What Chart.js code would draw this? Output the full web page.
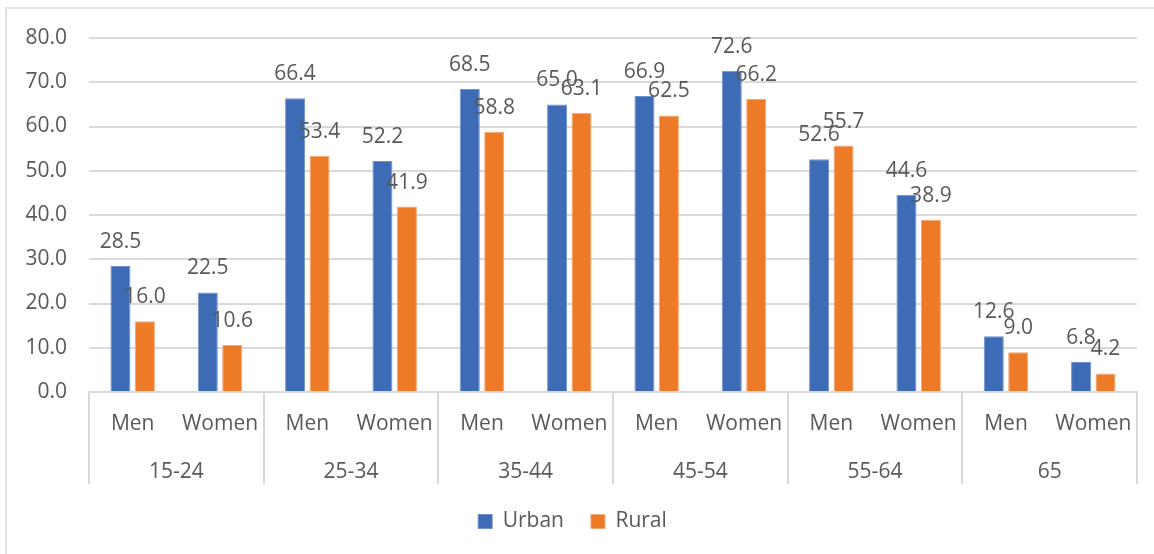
<!DOCTYPE html>
<html lang="en">
<head>
    <meta charset="UTF-8">
    <title>Urban / Rural by age group and sex</title>
    <script src="https://cdn.jsdelivr.net/npm/chart.js"></script>
    <style>
        html, body { margin: 0; padding: 0; background: #fff; overflow: hidden; }
        #wrap { position: relative; width: 1154px; height: 554px; }
        #frame {
            position: absolute; left: 5px; top: 7px;
            width: 1170px; height: 570px;
            border: 2px solid #e2e2e2;
        }
        #chart { position: absolute; left: 0; top: 0; }
    </style>
</head>
<body>
    <div id="wrap">
        <div id="frame"></div>
        <canvas id="chart" width="1154" height="554"></canvas>
    </div>
    <script>
        // data
        const sexLabels = ['Men', 'Women', 'Men', 'Women', 'Men', 'Women',
                           'Men', 'Women', 'Men', 'Women', 'Men', 'Women'];
        const ageGroups = ['15-24', '25-34', '35-44', '45-54', '55-64', '65'];
        const urban = [28.5, 22.5, 66.4, 52.2, 68.5, 65.0, 66.9, 72.6, 52.6, 44.6, 12.6, 6.8];
        const rural = [16.0, 10.6, 53.4, 41.9, 58.8, 63.1, 62.5, 66.2, 55.7, 38.9, 9.0, 4.2];

        const FONT = '"Open Sans", "Liberation Sans", sans-serif';
        const SIZE = 21;
        const TEXT = '#595959';
        const GRID = '#d9d9d9';

        // value labels above each bar
        const valueLabels = {
            id: 'valueLabels',
            afterDatasetsDraw(chart) {
                const ctx = chart.ctx;
                ctx.save();
                ctx.font = SIZE + 'px ' + FONT;
                ctx.fillStyle = TEXT;
                ctx.textAlign = 'center';
                ctx.textBaseline = 'middle';
                chart.data.datasets.forEach((ds, i) => {
                    chart.getDatasetMeta(i).data.forEach((bar, j) => {
                        ctx.fillText(ds.data[j].toFixed(1), bar.x, bar.y - 24);
                    });
                });
                ctx.restore();
            }
        };

        // vertical separators between the age groups, under the axis
        const groupLines = {
            id: 'groupLines',
            afterDraw(chart) {
                const x = chart.scales.x;
                const x2 = chart.scales.x2;
                const ctx = chart.ctx;
                const step = x.width / ageGroups.length;
                ctx.save();
                ctx.strokeStyle = GRID;
                ctx.lineWidth = 2;
                for (let i = 0; i <= ageGroups.length; i++) {
                    const px = Math.round(x.left + i * step);
                    ctx.beginPath();
                    ctx.moveTo(px, x.top);
                    ctx.lineTo(px, x2.bottom);
                    ctx.stroke();
                }
                ctx.restore();
            }
        };

        new Chart(document.getElementById('chart'), {
            type: 'bar',
            data: {
                labels: sexLabels,
                datasets: [{
                    label: 'Urban',
                    data: urban,
                    backgroundColor: '#3d6bb5',
                    borderColor: '#6f93cc',
                    borderWidth: 1,
                    categoryPercentage: 0.56,
                    barPercentage: 0.82
                }, {
                    label: 'Rural',
                    data: rural,
                    backgroundColor: '#ed7a26',
                    borderColor: '#f4a774',
                    borderWidth: 1,
                    categoryPercentage: 0.56,
                    barPercentage: 0.82
                }]
            },
            options: {
                responsive: false,
                animation: false,
                layout: { padding: { top: 38, left: 8, right: 17, bottom: 12 } },
                plugins: {
                    tooltip: { enabled: false },
                    legend: {
                        position: 'bottom',
                        labels: {
                            boxWidth: 14,
                            boxHeight: 14,
                            padding: 27,
                            color: TEXT,
                            font: { family: FONT, size: SIZE }
                        }
                    }
                },
                scales: {
                    y: {
                        min: 0,
                        max: 80,
                        ticks: {
                            stepSize: 10,
                            padding: 22,
                            color: TEXT,
                            font: { family: FONT, size: SIZE },
                            callback: v => v.toFixed(1)
                        },
                        grid: { color: GRID, lineWidth: 2, drawTicks: false },
                        border: { display: false },
                        afterFit(scale) { scale.width = 81; }
                    },
                    x: {
                        ticks: {
                            padding: 19,
                            color: TEXT,
                            maxRotation: 0,
                            autoSkip: false,
                            font: { family: FONT, size: SIZE }
                        },
                        grid: { display: false, drawTicks: false },
                        border: { display: true, color: GRID, width: 2 },
                        afterFit(scale) { scale.height = 48; }
                    },
                    x2: {
                        type: 'category',
                        position: 'bottom',
                        labels: ageGroups,
                        offset: true,
                        ticks: {
                            padding: 19,
                            color: TEXT,
                            maxRotation: 0,
                            font: { family: FONT, size: SIZE }
                        },
                        grid: { display: false, drawTicks: false },
                        border: { display: false },
                        afterFit(scale) { scale.height = 44; }
                    }
                }
            },
            plugins: [valueLabels, groupLines]
        });
    </script>
</body>
</html>
